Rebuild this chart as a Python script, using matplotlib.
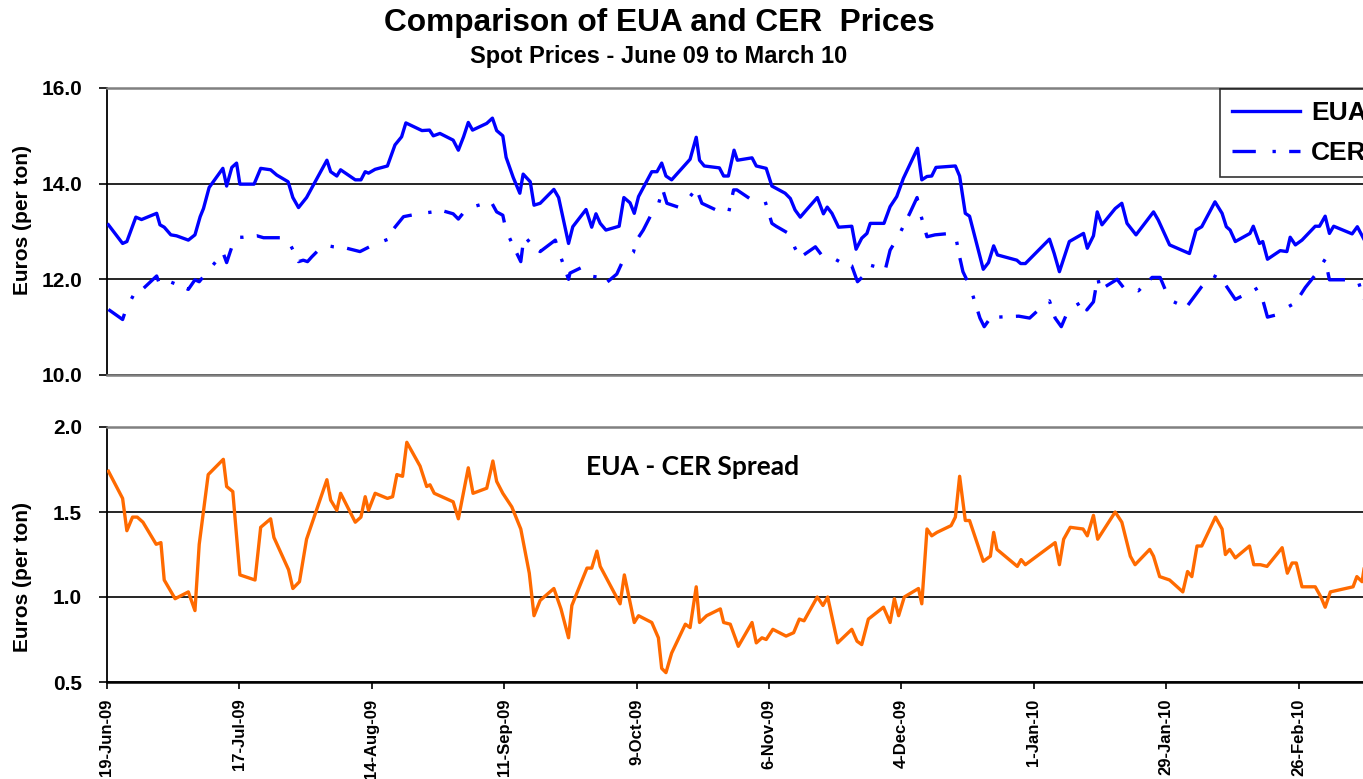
import matplotlib
matplotlib.use("Agg")
import matplotlib.pyplot as plt
import pandas as pd
from matplotlib.lines import Line2D

plt.rcParams['font.family'] = ['Liberation Sans', 'DejaVu Sans']

# ---------------- data (days since 19-Jun-09) ----------------
start_date = "2009-06-19"

eua_days = [0.3, 3.3, 4.2, 6.1, 7.3, 10.5, 11.2, 12.1, 13.5, 14.7,
            17.2, 18.6, 19.7, 20.4, 21.6, 24.5, 25.3, 26.4, 27.4, 28.1,
            31.1, 32.5, 34.6, 35.9, 38.3, 39.3, 40.5, 42.2, 45.0, 46.5,
            47.3, 48.6, 49.4, 52.5, 53.7, 54.6, 55.3, 56.7, 59.3, 60.9,
            62.3, 63.2, 66.6, 68.2, 69.0, 70.4, 73.2, 74.3, 75.4, 76.4,
            77.3, 80.3, 81.5, 82.4, 83.7, 84.4, 85.9, 87.3, 88.0, 89.5,
            90.3, 91.6, 94.5, 95.5, 97.6, 98.5, 101.3, 102.5, 103.4, 104.3,
            105.5, 108.3, 109.3, 110.6, 111.5, 112.4, 115.2, 116.3, 117.3, 118.2,
            119.4, 123.3, 124.6, 125.3, 126.3, 129.5, 130.4, 131.4, 132.6, 133.3,
            136.4, 137.3, 139.4, 140.6, 143.4, 144.5, 145.5, 146.6, 147.9, 150.2,
            151.5, 152.3, 153.3, 154.7, 157.5, 158.4, 159.6, 160.7, 161.4, 164.3,
            165.6, 167.0, 168.4, 171.4, 172.3, 173.4, 174.4, 175.3, 179.4, 180.3,
            181.5, 182.4, 185.3, 186.4, 187.5, 188.3, 192.4, 193.2, 194.2, 199.3,
            200.3, 201.4, 203.5, 206.5, 207.3, 208.6, 209.4, 210.4, 213.2, 214.6,
            215.7, 217.6, 221.3, 222.3, 224.7, 228.9, 230.3, 231.5, 234.3, 235.8,
            236.7, 237.5, 238.6, 241.7, 242.4, 243.7, 244.4, 245.4, 248.1, 249.5,
            250.2, 251.3, 252.7, 255.5, 256.4, 257.6, 258.5, 259.4, 263.3, 264.4,
            265.9]
eua_vals = [13.14, 12.75, 12.79, 13.30, 13.25, 13.38, 13.14, 13.09, 12.93, 12.91,
            12.82, 12.93, 13.31, 13.48, 13.92, 14.32, 13.95, 14.34, 14.43, 13.99,
            13.99, 14.32, 14.29, 14.18, 14.04, 13.71, 13.50, 13.71, 14.22, 14.49,
            14.25, 14.16, 14.29, 14.08, 14.08, 14.25, 14.22, 14.30, 14.37, 14.81,
            14.98, 15.27, 15.11, 15.12, 15.00, 15.05, 14.91, 14.70, 14.98, 15.28,
            15.12, 15.26, 15.37, 15.11, 15.00, 14.55, 14.13, 13.80, 14.20, 14.04,
            13.55, 13.59, 13.88, 13.71, 12.75, 13.10, 13.46, 13.09, 13.37, 13.17,
            13.03, 13.11, 13.71, 13.60, 13.38, 13.73, 14.25, 14.25, 14.43, 14.16,
            14.08, 14.51, 14.97, 14.49, 14.37, 14.33, 14.16, 14.16, 14.70, 14.49,
            14.54, 14.37, 14.32, 13.95, 13.80, 13.69, 13.45, 13.30, 13.45, 13.71,
            13.37, 13.51, 13.38, 13.09, 13.11, 12.63, 12.86, 12.96, 13.17, 13.17,
            13.52, 13.73, 14.11, 14.74, 14.08, 14.15, 14.16, 14.34, 14.37, 14.16,
            13.38, 13.32, 12.21, 12.35, 12.70, 12.51, 12.40, 12.33, 12.33, 12.84,
            12.54, 12.16, 12.79, 12.96, 12.65, 12.91, 13.41, 13.14, 13.48, 13.59,
            13.17, 12.93, 13.41, 13.24, 12.72, 12.54, 13.03, 13.10, 13.62, 13.38,
            13.10, 13.03, 12.79, 12.96, 13.11, 12.75, 12.79, 12.42, 12.60, 12.58,
            12.88, 12.72, 12.82, 13.11, 13.11, 13.32, 12.96, 13.11, 12.95, 13.10,
            12.82]

cer_days = [0.3, 3.3, 4.0, 5.6, 7.7, 10.5, 11.1, 12.3, 15.1, 17.2,
            18.6, 19.5, 21.4, 23.8, 24.6, 25.3, 26.0, 27.1, 28.8, 31.7,
            33.1, 34.5, 38.0, 39.4, 40.5, 41.5, 42.4, 43.3, 45.8, 47.9,
            50.7, 53.5, 56.3, 59.5, 60.4, 62.7, 65.8, 69.0, 70.4, 73.2,
            74.3, 76.1, 79.3, 81.4, 82.4, 83.7, 84.4, 85.9, 87.5, 88.2,
            90.2, 91.6, 94.8, 95.8, 96.9, 97.6, 97.9, 100.4, 102.0, 103.6,
            105.5, 107.8, 109.1, 111.3, 112.0, 113.4, 114.9, 116.6, 117.5, 118.4,
            120.8, 123.3, 124.6, 125.8, 128.8, 131.4, 132.5, 133.2, 136.2, 139.2,
            140.6, 141.5, 144.3, 145.5, 146.6, 149.8, 151.4, 154.0, 154.9, 157.5,
            158.7, 160.7, 161.2, 164.6, 165.6, 167.4, 169.8, 171.3, 172.1, 173.4,
            175.1, 178.3, 179.4, 180.3, 181.0, 182.5, 184.6, 185.5, 187.5, 188.3,
            192.8, 195.1, 197.3, 199.3, 200.5, 201.8, 203.3, 206.5, 207.2, 208.6,
            209.5, 210.0, 213.6, 215.1, 216.4, 218.1, 221.0, 222.7, 224.7, 228.2,
            231.5, 233.7, 235.8, 237.5, 238.6, 241.8, 242.8, 244.4, 245.4, 247.0,
            249.5, 251.3, 253.4, 255.5, 257.6, 258.5, 261.5, 264.5, 265.9]
cer_vals = [11.37, 11.16, 11.37, 11.67, 11.81, 12.07, 11.90, 11.99, 11.88, 11.79,
            11.99, 11.95, 12.18, 12.46, 12.54, 12.35, 12.56, 12.88, 12.88, 12.91,
            12.87, 12.87, 12.87, 12.60, 12.37, 12.40, 12.37, 12.47, 12.72, 12.68,
            12.65, 12.58, 12.72, 12.84, 13.03, 13.31, 13.37, 13.41, 13.45, 13.37,
            13.26, 13.48, 13.57, 13.59, 13.41, 13.34, 13.02, 12.70, 12.37, 12.91,
            12.68, 12.58, 12.82, 12.51, 12.20, 12.00, 12.13, 12.25, 12.07, 12.05,
            11.92, 12.11, 12.39, 12.56, 12.82, 13.03, 13.32, 13.57, 13.88, 13.59,
            13.51, 13.73, 13.90, 13.59, 13.45, 13.37, 13.87, 13.87, 13.67, 13.62,
            13.17, 13.11, 12.95, 12.65, 12.46, 12.68, 12.47, 12.42, 12.37, 12.28,
            11.95, 12.14, 12.30, 12.21, 12.61, 12.91, 13.39, 13.71, 13.34, 12.89,
            12.93, 12.96, 12.93, 12.47, 12.16, 11.85, 11.19, 11.01, 11.29, 11.21,
            11.23, 11.19, 11.39, 11.55, 11.19, 11.01, 11.36, 11.55, 11.36, 11.53,
            12.05, 11.78, 12.00, 11.81, 11.85, 11.76, 12.04, 12.04, 11.57, 11.41,
            11.85, 12.09, 11.99, 11.74, 11.58, 11.74, 11.83, 11.57, 11.21, 11.25,
            11.41, 11.51, 11.83, 12.09, 12.42, 11.99, 11.99, 11.99, 11.55]

spread_days = [0.3, 3.3, 4.2, 5.4, 6.4, 7.6, 10.4, 11.4, 12.1, 14.4,
               17.2, 18.6, 19.5, 21.4, 24.6, 25.3, 26.6, 28.1, 31.3, 32.5,
               34.6, 35.3, 38.4, 39.3, 40.7, 42.2, 46.5, 47.3, 48.6, 49.4,
               52.5, 53.7, 54.6, 55.3, 56.7, 59.3, 60.4, 61.3, 62.5, 63.4,
               66.2, 67.6, 68.3, 69.2, 73.2, 74.3, 76.4, 77.4, 80.3, 81.6,
               82.4, 83.7, 85.6, 87.5, 89.3, 90.3, 91.6, 94.5, 96.0, 97.6,
               98.3, 101.5, 102.5, 103.6, 104.3, 108.5, 109.4, 111.5, 112.4, 115.2,
               116.6, 117.3, 118.2, 119.4, 122.3, 123.3, 124.6, 125.3, 126.8, 129.7,
               130.4, 131.8, 133.5, 136.4, 137.3, 138.5, 139.4, 140.8, 143.6, 145.2,
               146.4, 147.4, 150.2, 151.4, 152.4, 154.5, 157.5, 158.6, 159.6, 161.0,
               164.2, 165.6, 166.5, 167.4, 168.6, 171.6, 172.3, 173.4, 174.4, 175.5,
               178.5, 179.4, 180.3, 181.5, 182.4, 185.3, 186.8, 187.5, 188.2, 192.5,
               193.3, 194.2, 200.5, 201.4, 202.3, 203.7, 206.4, 207.3, 208.6, 209.5,
               213.2, 214.6, 216.4, 217.4, 220.5, 221.3, 222.6, 224.7, 227.5, 228.5,
               229.4, 230.5, 231.5, 234.4, 235.8, 236.5, 237.4, 238.6, 241.6, 242.5,
               243.9, 245.3, 248.5, 249.6, 250.6, 251.5, 252.7, 255.5, 256.7, 257.6,
               258.7, 263.5, 264.3, 265.4, 265.9]
spread_vals = [1.74, 1.58, 1.39, 1.47, 1.47, 1.44, 1.31, 1.32, 1.10, 0.99,
               1.03, 0.92, 1.31, 1.72, 1.81, 1.65, 1.62, 1.13, 1.10, 1.41,
               1.46, 1.35, 1.16, 1.05, 1.09, 1.34, 1.69, 1.57, 1.51, 1.61,
               1.44, 1.47, 1.59, 1.51, 1.61, 1.58, 1.59, 1.72, 1.71, 1.91,
               1.77, 1.65, 1.66, 1.61, 1.56, 1.46, 1.76, 1.61, 1.64, 1.80,
               1.68, 1.61, 1.53, 1.40, 1.14, 0.89, 0.98, 1.05, 0.93, 0.76,
               0.95, 1.17, 1.17, 1.27, 1.18, 0.96, 1.13, 0.85, 0.89, 0.85,
               0.76, 0.58, 0.555, 0.67, 0.84, 0.82, 1.06, 0.85, 0.89, 0.93,
               0.85, 0.84, 0.71, 0.85, 0.73, 0.76, 0.75, 0.81, 0.77, 0.79,
               0.87, 0.86, 1.00, 0.95, 1.00, 0.73, 0.81, 0.74, 0.72, 0.87,
               0.94, 0.85, 0.99, 0.89, 1.00, 1.05, 0.96, 1.40, 1.36, 1.38,
               1.42, 1.47, 1.71, 1.45, 1.45, 1.21, 1.24, 1.38, 1.28, 1.18,
               1.22, 1.19, 1.32, 1.19, 1.34, 1.41, 1.40, 1.36, 1.48, 1.34,
               1.50, 1.44, 1.24, 1.19, 1.28, 1.24, 1.12, 1.10, 1.03, 1.15,
               1.12, 1.30, 1.30, 1.47, 1.40, 1.25, 1.28, 1.23, 1.30, 1.19,
               1.19, 1.18, 1.29, 1.14, 1.20, 1.20, 1.06, 1.06, 1.00, 0.94,
               1.03, 1.06, 1.12, 1.09, 1.18]

tick_labels = ['19-Jun-09', '17-Jul-09', '14-Aug-09', '11-Sep-09', '9-Oct-09',
               '6-Nov-09', '4-Dec-09', '1-Jan-10', '29-Jan-10', '26-Feb-10']
price_ticks = [10.0, 12.0, 14.0, 16.0]
spread_ticks = [0.5, 1.0, 1.5, 2.0]

title = "Comparison of EUA and CER  Prices"
subtitle = "Spot Prices - June 09 to March 10"
ylabel = "Euros (per ton)"
spread_title = "EUA - CER Spread"

# ---------------- plotting ----------------
t0 = pd.Timestamp(start_date)
def to_dates(days):
    return t0 + pd.to_timedelta(days, unit='D')

W, H = 1363, 779
fig = plt.figure(figsize=(W / 100, H / 100), dpi=100)
fig.patch.set_facecolor('white')

ax1 = fig.add_axes([107 / W, 1 - 375 / H, (W - 107) / W, 287 / H])
ax2 = fig.add_axes([107 / W, 1 - 682 / H, (W - 107) / W, 255 / H])

blue = '#0000FF'
orange = '#FF6A00'
cer_style = (0, (7, 5, 1, 4))

ax1.plot(to_dates(eua_days), eua_vals, color=blue, lw=2.4, solid_joinstyle='round', zorder=3)
ax1.plot(to_dates(cer_days), cer_vals, color=blue, lw=2.4, linestyle=cer_style, zorder=3)
ax2.plot(to_dates(spread_days), spread_vals, color=orange, lw=2.4, solid_joinstyle='round', zorder=3)

xmin = t0
xmax = t0 + pd.Timedelta(days=265.6)
tick_dates = pd.to_datetime(tick_labels, format='%d-%b-%y')

for ax, ticks in ((ax1, price_ticks), (ax2, spread_ticks)):
    ax.set_xlim(xmin, xmax)
    ax.set_ylim(ticks[0], ticks[-1])
    ax.set_yticks(ticks)
    ax.set_yticklabels(['{:.1f}'.format(v) for v in ticks], fontsize=15, fontweight='bold')
    ax.yaxis.grid(True, color='black', lw=1.2)
    ax.set_axisbelow(True)
    ax.tick_params(axis='y', direction='out', length=6, width=1.2, pad=12, colors='black')
    ax.spines['right'].set_visible(False)
    ax.spines['left'].set_color('black')
    ax.spines['left'].set_linewidth(1.3)
    ax.spines['top'].set_color('#808080')
    ax.spines['top'].set_linewidth(1.8)

ax1.spines['bottom'].set_color('#808080')
ax1.spines['bottom'].set_linewidth(1.8)
ax1.set_xticks([])

ax2.spines['bottom'].set_color('black')
ax2.spines['bottom'].set_linewidth(1.8)
ax2.set_xticks(tick_dates)
ax2.set_xticklabels(tick_labels, rotation=90, fontsize=12, fontweight='bold', va='top', ha='center')
ax2.tick_params(axis='x', direction='out', length=5, width=1.2, pad=7)

# titles and labels
fig.text(659 / W, 1 - 23 / H, title, ha='center', va='center', fontsize=22.8, fontweight='bold')
fig.text(659 / W, 1 - 56 / H, subtitle, ha='center', va='center', fontsize=17, fontweight='bold')
fig.text(23 / W, 1 - 220 / H, ylabel, rotation=90, ha='center', va='center', fontsize=15, fontweight='bold')
fig.text(23 / W, 1 - 577 / H, ylabel, rotation=90, ha='center', va='center', fontsize=15, fontweight='bold')
fig.text(693 / W, 1 - 467 / H, spread_title, ha='center', va='center', fontsize=19,
         fontweight='bold', family=['Lato', 'DejaVu Sans'])

handles = [Line2D([], [], color=blue, lw=2.4),
           Line2D([], [], color=blue, lw=2.4, linestyle=cer_style)]
leg = fig.legend(handles, ['EUA', 'CER'], loc='upper left',
                 bbox_to_anchor=(1220 / W, 1 - 89 / H), bbox_transform=fig.transFigure,
                 prop={'weight': 'bold', 'size': 19}, frameon=True, fancybox=False,
                 handlelength=2.6, handletextpad=0.4, labelspacing=0.62, borderpad=0.45,
                 borderaxespad=0)
leg.get_frame().set_edgecolor('black')
leg.get_frame().set_linewidth(1.2)

fig.savefig('out.png', dpi=100, facecolor='white')
